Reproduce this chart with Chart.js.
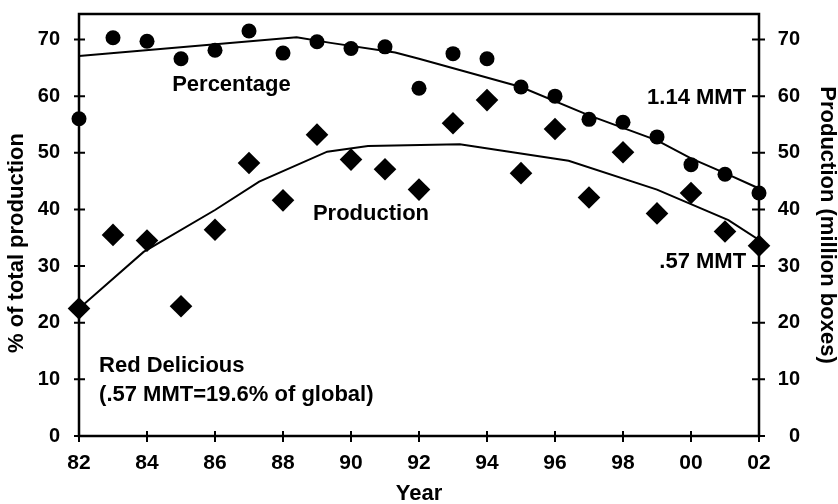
<!DOCTYPE html>
<html>
<head>
<meta charset="utf-8">
<script src="https://cdn.jsdelivr.net/npm/chart.js@4/dist/chart.umd.min.js"></script>
<style>
  body { margin: 0; background: #fff; }
</style>
</head>
<body>
<canvas id="canvas" width="838" height="504"></canvas>
<script>
const years = [1982, 1983, 1984, 1985, 1986, 1987, 1988, 1989, 1990, 1991, 1992, 1993, 1994, 1995, 1996, 1997, 1998, 1999, 2000, 2001, 2002]
// % of total production (circles)
const pctValues = [56.0, 70.3, 69.7, 66.6, 68.1, 71.5, 67.6, 69.6, 68.4, 68.7, 61.4, 67.5, 66.6, 61.6, 60.0, 55.9, 55.4, 52.8, 47.9, 46.2, 42.9]
// production, million boxes (diamonds)
const prodValues = [22.5, 35.5, 34.5, 22.9, 36.4, 48.2, 41.6, 53.2, 48.8, 47.1, 43.5, 55.2, 59.3, 46.4, 54.2, 42.1, 50.1, 39.3, 42.9, 36.1, 33.6]

// fitted trend lines
const pctTrendX = [1982, 1988.4, 1989.4, 1991.3, 1992, 1995, 1997, 1999, 2000, 2001, 2002]
const pctTrendY = [67.1, 70.4, 69.4, 67.7, 66.6, 61.6, 56.6, 52.2, 49.0, 46.4, 43.7]
const prodTrendX = [1982, 1983.9, 1986, 1987.3, 1989.3, 1990.5, 1993.2, 1996.4, 1999, 2001.1, 2002]
const prodTrendY = [22.5, 32.5, 39.9, 44.9, 50.2, 51.2, 51.5, 48.6, 43.5, 38.1, 34.6]

const xTickLabels = ['82', '84', '86', '88', '90', '92', '94', '96', '98', '00', '02']
const yTickLabels = ['0', '10', '20', '30', '40', '50', '60', '70']

const notes = [
    { text: 'Percentage', x: 1984.74, y: 60.9, align: 'left' },
    { text: 'Production', x: 1988.88, y: 38.2, align: 'left' },
    { text: '1.14 MMT', x: 2001.62, y: 58.6, align: 'right' },
    { text: '.57 MMT', x: 2001.62, y: 29.6, align: 'right' },
    { text: 'Red Delicious', x: 1982.59, y: 11.35, align: 'left' },
    { text: '(.57 MMT=19.6% of global)', x: 1982.59, y: 6.2, align: 'left' },
]

const FONT = 'Liberation Sans, Arial, sans-serif'
const pts = (xs, ys) => xs.map((x, i) => ({ x: x, y: ys[i] }))

// box + ticks that cross the axes, labels and axis titles
const frame = {
    id: 'frame',
    beforeDatasetsDraw(chart) {
        const { ctx, chartArea: a, scales } = chart
        ctx.save()
        ctx.strokeStyle = '#000'
        ctx.lineWidth = 2.5
        ctx.strokeRect(a.left, a.top, a.right - a.left, a.bottom - a.top)
        ctx.lineWidth = 2
        ctx.beginPath()
        scales.x.ticks.forEach(t => {
            const px = scales.x.getPixelForValue(t.value)
            ctx.moveTo(px, a.bottom - 5)
            ctx.lineTo(px, a.bottom + 6)
        })
        scales.y.ticks.forEach(t => {
            const py = scales.y.getPixelForValue(t.value)
            ctx.moveTo(a.left - 5, py)
            ctx.lineTo(a.left + 6, py)
        })
        scales.y2.ticks.forEach(t => {
            const py = scales.y2.getPixelForValue(t.value)
            ctx.moveTo(a.right - 7, py)
            ctx.lineTo(a.right + 6, py)
        })
        ctx.stroke()
        ctx.restore()
    },
    afterDatasetsDraw(chart) {
        const { ctx, chartArea: a, scales } = chart
        ctx.save()
        ctx.fillStyle = '#000'
        ctx.font = 'bold 22px ' + FONT
        ctx.textBaseline = 'alphabetic'
        notes.forEach(n => {
            ctx.textAlign = n.align
            ctx.fillText(n.text, scales.x.getPixelForValue(n.x), scales.y.getPixelForValue(n.y))
        })
        // axis titles
        ctx.textAlign = 'center'
        ctx.textBaseline = 'middle'
        ctx.fillText('Year', (a.left + a.right) / 2, 494)
        ctx.save()
        ctx.translate(17, 243)
        ctx.rotate(-Math.PI / 2)
        ctx.fillText('% of total production', 0, 0)
        ctx.restore()
        ctx.save()
        ctx.translate(827, (a.top + a.bottom) / 2)
        ctx.rotate(Math.PI / 2)
        ctx.fillText('Production (million boxes)', 0, 0)
        ctx.restore()
        ctx.restore()
    }
}

const yTickFont = { family: FONT, size: 20, weight: 'bold' }
const xTickFont = { family: FONT, size: 21, weight: 'bold' }

const data = {
    datasets: [
        {
            type: 'line',
            data: pts(pctTrendX, pctTrendY),
            borderColor: '#000',
            borderWidth: 2,
            pointRadius: 0,
            tension: 0,
            yAxisID: 'y',
        },
        {
            type: 'line',
            data: pts(prodTrendX, prodTrendY),
            borderColor: '#000',
            borderWidth: 2,
            pointRadius: 0,
            tension: 0,
            yAxisID: 'y2',
        },
        {
            type: 'scatter',
            label: 'Percentage',
            data: pts(years, pctValues),
            backgroundColor: '#000',
            borderColor: '#000',
            borderWidth: 0,
            pointStyle: 'circle',
            pointRadius: 7.5,
            yAxisID: 'y',
            clip: false,
        },
        {
            type: 'scatter',
            label: 'Production',
            data: pts(years, prodValues),
            backgroundColor: '#000',
            borderColor: '#000',
            borderWidth: 0,
            pointStyle: 'rectRot',
            pointRadius: 11.3,
            yAxisID: 'y2',
            clip: false,
        },
    ],
}

const fitY = w => s => { s.width = w; s.paddingTop = 0; s.paddingBottom = 0 }

const config = {
    type: 'scatter',
    data: data,
    plugins: [frame],
    options: {
        responsive: false,
        animation: false,
        devicePixelRatio: 1,
        layout: { padding: { left: 0, right: 38, top: 14, bottom: 0 } },
        plugins: { legend: { display: false }, tooltip: { enabled: false } },
        scales: {
            x: {
                type: 'linear',
                min: 1982,
                max: 2002,
                grid: { display: false, drawTicks: false },
                border: { display: false },
                ticks: {
                    stepSize: 2,
                    color: '#000',
                    font: xTickFont,
                    padding: 15,
                    maxRotation: 0,
                    callback: (v, i) => xTickLabels[i],
                },
                afterFit: s => { s.height = 68; s.paddingLeft = 0; s.paddingRight = 0 },
            },
            y: {
                position: 'left',
                min: 0,
                max: 74.5,
                grid: { display: false, drawTicks: false },
                border: { display: false },
                ticks: {
                    stepSize: 10,
                    includeBounds: false,
                    color: '#000',
                    font: yTickFont,
                    padding: 19,
                    callback: (v, i) => yTickLabels[i],
                },
                afterFit: fitY(79),
            },
            y2: {
                position: 'right',
                min: 0,
                max: 74.5,
                grid: { display: false, drawTicks: false },
                border: { display: false },
                ticks: {
                    stepSize: 10,
                    includeBounds: false,
                    color: '#000',
                    font: yTickFont,
                    padding: 19,
                    crossAlign: 'far',
                    callback: (v, i) => yTickLabels[i],
                },
                afterFit: fitY(41),
            },
        },
    },
}

const canvas = document.getElementById('canvas')
const chart = new Chart(canvas, config)
</script>
</body>
</html>
